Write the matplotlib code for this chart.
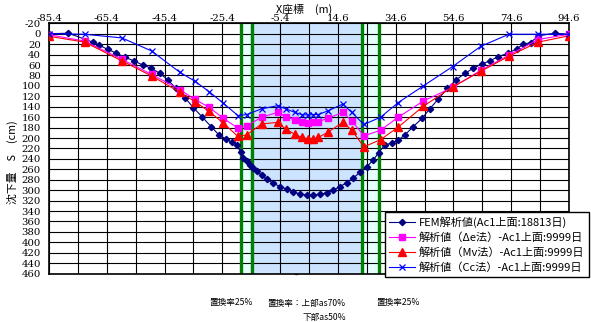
import numpy as np
import matplotlib
matplotlib.use("Agg")
import matplotlib.pyplot as plt

plt.rcParams['font.family'] = ['Noto Sans CJK JP', 'DejaVu Sans']

# ---------------- data ----------------
fem_x = [-85.4, -78.7, -70.3, -68.0, -65.1, -62.1, -59.2, -56.0, -53.0, -50.1, -47.0,
         -44.2, -41.4, -38.3, -35.4, -32.3, -29.3, -26.6, -24.1, -22.2, -20.4, -19.1,
         -18.1, -17.0, -15.8, -14.7, -13.5, -11.8, -10.1, -7.8, -5.4, -3.1, -0.8,
         1.5, 4.0, 6.1, 8.4, 10.7, 13.0, 15.3, 17.6, 19.9, 22.2, 24.6, 26.9, 28.7,
         30.9, 33.2, 35.5, 37.8, 40.7, 43.8, 46.4, 49.4, 52.5, 55.4, 58.6, 61.5,
         64.4, 67.2, 70.1, 73.6, 76.5, 78.8, 81.3, 84.0, 89.7, 94.6]
fem_y = [0, -1, 16, 22, 30, 37, 45, 52, 60, 66, 76,
         89, 105, 123, 142, 160, 178, 194, 202, 208, 213, 227,
         239, 245, 252, 258, 263, 271, 279, 287, 293, 298, 304,
         307, 310, 309, 308, 305, 300, 293, 286, 277, 266, 255, 242, 228,
         213, 210, 204, 194, 178, 162, 144, 125, 105, 89, 76, 66,
         58, 52, 44, 37, 29, 20, 17, 4, -1, 1]

calc_x = [-85.4, -73.1, -60.2, -49.9, -40.1, -34.9, -30.0, -25.1, -20.0, -17.0,
          -11.8, -6.3, -3.4, -0.25, 2.1, 4.4, 6.1, 7.8, 11.1, 16.3, 19.4, 23.6,
          29.4, 35.5, 44.2, 54.3, 64.1, 73.8, 84.0, 94.6]
de_y = [2, 14, 49, 78, 107, 126, 141, 162, 181, 177,
        160, 151, 159, 165, 169, 171, 170, 169, 162, 151, 167, 196,
        185, 160, 129, 103, 70, 41, 11, 1]
mv_y = [5, 16, 52, 81, 112, 130, 149, 171, 197, 194,
        173, 170, 183, 193, 199, 202, 202, 199, 189, 170, 185, 217,
        203, 179, 139, 102, 72, 43, 16, 4]
cc_y = [0, 1, 8, 33, 74, 91, 111, 133, 157, 155,
        144, 138, 144, 151, 155, 156, 155, 155, 148, 135, 151, 174,
        160, 132, 100, 63, 24, 1, 1, 1]

x_tick_vals = [-85.4, -65.4, -45.4, -25.4, -5.4, 14.6, 34.6, 54.6, 74.6, 94.6]
x_tick_labels = ["-85.4", "-65.4", "-45.4", "-25.4", "-5.4", "14.6", "34.6", "54.6", "74.6", "94.6"]
y_tick_vals = list(range(-20, 461, 20))
y_tick_labels = [str(v) for v in y_tick_vals]

zone_edges = [-19.1, -15.0, 22.8, 28.7]

legend_labels = ["FEM解析値(Ac1上面:18813日)",
                 "解析値（Δe法）-Ac1上面:9999日",
                 "解析値（Mv法）-Ac1上面:9999日",
                 "解析値（Cc法）-Ac1上面:9999日"]

# ---------------- figure ----------------
W, H = 591, 322
fig = plt.figure(figsize=(W / 100, H / 100), dpi=100)
fig.patch.set_facecolor('white')
ax = fig.add_axes([49 / W, 1 - 273.6 / H, 520 / W, 250.3 / H])

ax.set_xlim(-85.4, 94.6)
ax.set_ylim(460, -20)

# zones
ax.axvspan(zone_edges[0], zone_edges[1], color='#e6ffff', zorder=0.1, lw=0)
ax.axvspan(zone_edges[1], zone_edges[2], color='#cce4ff', zorder=0.1, lw=0)
ax.axvspan(zone_edges[2], zone_edges[3], color='#e6ffff', zorder=0.1, lw=0)
for xe in zone_edges:
    ax.axvline(xe, color='#008000', lw=2.4, zorder=1.5)

# ticks / grid
ax.set_xticks(x_tick_vals)
ax.set_xticklabels(x_tick_labels, fontfamily=['DejaVu Serif'], fontsize=7.3)
ax.set_xticks(np.arange(-75.4, 94.6, 20), minor=True)
ax.xaxis.tick_top()
ax.tick_params(axis='x', which='both', length=0, pad=0.5)
ax.set_yticks(y_tick_vals)
ax.set_yticklabels(y_tick_labels, fontfamily=['DejaVu Serif'], fontsize=7.3)
ax.tick_params(axis='y', length=0, pad=6)
ax.set_axisbelow(True)
ax.grid(True, which='both', color='black', lw=0.8, zorder=0.5)
for s in ax.spines.values():
    s.set_linewidth(1.2)
    s.set_color('black')

# secondary axis at x = 0
sec = ax.secondary_yaxis(85.4 / 180.0)
sec.set_yticks(np.arange(-20, 461, 10))
sec.set_yticklabels([])
sec.tick_params(direction='inout', length=3, width=0.8, color='#444444')
sec.spines['left'].set_color('#555555')
sec.spines['left'].set_linewidth(1.0)

# data
h1, = ax.plot(fem_x, fem_y, color='#000080', lw=0.8, marker='D', ms=3.2, zorder=4)
h2, = ax.plot(calc_x, de_y, color='#ff00ff', lw=0.8, marker='s', ms=4.8, zorder=5)
h3, = ax.plot(calc_x, mv_y, color='#ff0000', lw=0.8, marker='^', ms=5.2, zorder=5)
h4, = ax.plot(calc_x, cc_y, color='#0000ff', lw=0.8, marker='x', ms=5, mew=0.9, zorder=6)

leg = fig.legend([h1, h2, h3, h4], legend_labels, loc='upper left',
                 bbox_to_anchor=(385 / W, 1 - 212 / H), bbox_transform=fig.transFigure,
                 fontsize=8, frameon=True, fancybox=False, edgecolor='black',
                 framealpha=1, handlelength=2.3, handletextpad=0.35,
                 labelspacing=0.38, borderpad=0.4, borderaxespad=0)
leg.get_frame().set_linewidth(1.0)

# titles
fig.text(304 / W, 1 - 9 / H, "X座標　(m)", ha='center', va='center', fontsize=7.8)
fig.text(12 / W, 1 - 162 / H, "沈下量　S　(cm)", ha='center', va='center',
         rotation=90, fontsize=7.8)

# annotations
fig.text(231 / W, 1 - 303 / H, "置換率25%", ha='center', va='center', fontsize=6.2)
fig.text(267 / W, 1 - 303 / H, "置換率：上部as70%", ha='left', va='center', fontsize=6.2)
fig.text(303 / W, 1 - 317 / H, "下部as50%", ha='left', va='center', fontsize=6.2)
fig.text(398 / W, 1 - 303 / H, "置換率25%", ha='center', va='center', fontsize=6.2)

fig.savefig("out.png", dpi=100)
